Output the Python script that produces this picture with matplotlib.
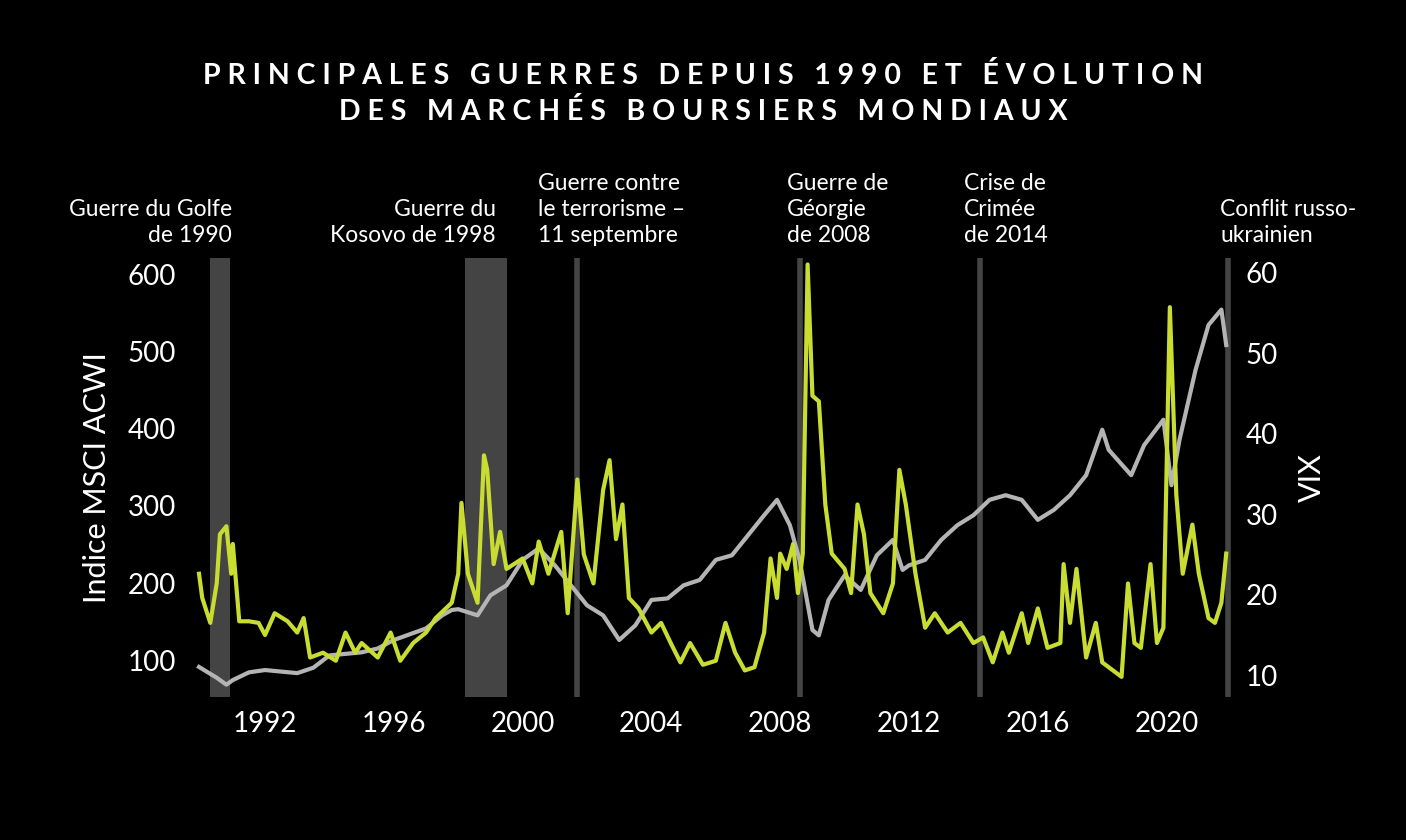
import matplotlib
matplotlib.use("Agg")
import matplotlib.pyplot as plt

plt.rcParams['font.family'] = ['Lato', 'DejaVu Sans']

msci_t = [1989.95,1990.5,1990.8,1991.0,1991.5,1992,1993,1993.5,1994,1995,1995.5,1996,1997,1997.5,1997.8,1998.0,1998.6,1999,1999.5,2000,2000.5,2001,2001.5,2002,2002.5,2003,2003.5,2004,2004.5,2005,2005.5,2006,2006.5,2007,2007.5,2007.9,2008.3,2008.6,2009,2009.2,2009.5,2010,2010.5,2011,2011.5,2011.8,2012,2012.5,2013,2013.5,2014,2014.5,2015,2015.5,2016,2016.5,2017,2017.5,2018,2018.2,2018.9,2019.3,2019.9,2020.15,2020.4,2020.9,2021.3,2021.7,2021.85]
msci_v = [91,77,68,74,84,87,83,90,106,110,115,126,141,158,165,166,158,184,197,230,245,223,197,171,158,126,145,178,180,197,204,230,236,262,288,308,275,230,139,132,178,210,191,236,256,217,223,230,256,275,288,308,314,308,282,295,314,340,399,373,340,379,412,327,386,477,535,555,509]

vix_t = [1989.95,1990.05,1990.3,1990.5,1990.6,1990.8,1990.95,1991.0,1991.2,1991.5,1991.8,1992.0,1992.3,1992.7,1993.0,1993.2,1993.4,1993.8,1994.2,1994.5,1994.8,1995,1995.5,1995.9,1996.2,1996.6,1997.0,1997.3,1997.8,1998.0,1998.1,1998.3,1998.6,1998.8,1998.9,1999.1,1999.3,1999.5,2000.0,2000.3,2000.5,2000.8,2001.2,2001.4,2001.7,2001.9,2002.2,2002.5,2002.7,2002.9,2003.1,2003.3,2003.6,2004.0,2004.3,2004.6,2004.9,2005.2,2005.6,2006.0,2006.3,2006.6,2006.9,2007.2,2007.5,2007.7,2007.9,2008.0,2008.2,2008.4,2008.55,2008.7,2008.85,2009.0,2009.2,2009.4,2009.6,2010.0,2010.2,2010.4,2010.6,2010.8,2011.2,2011.5,2011.7,2011.9,2012.2,2012.5,2012.8,2013.2,2013.6,2014.0,2014.3,2014.6,2014.9,2015.1,2015.5,2015.7,2016.0,2016.3,2016.7,2016.8,2017.0,2017.2,2017.5,2017.8,2018.0,2018.4,2018.6,2018.8,2019.0,2019.2,2019.5,2019.7,2019.9,2020.1,2020.3,2020.5,2020.8,2021.0,2021.3,2021.5,2021.7,2021.85]
vix_v = [22.6,19.6,16.5,21.4,27.5,28.5,22.6,26.3,16.7,16.7,16.5,15,17.7,16.7,15.3,17.1,12.2,12.8,11.8,15.3,12.8,14,12.2,15.3,11.8,14,15.3,17.1,19,22.6,31.4,22.6,19,37.3,35.5,23.8,27.8,23.2,24.5,21.4,26.6,22.6,27.8,17.7,34.3,25,21.4,33,36.7,26.9,31.2,19.6,18.3,15.3,16.5,14,11.6,14,11.3,11.8,16.5,12.8,10.6,11,15.3,24.5,19.6,25.1,23.2,26.3,20.2,25.1,61,44.7,44,31.2,25.1,23.2,20.2,31.2,27.5,20.2,17.7,21.4,35.5,31.2,22.6,15.9,17.7,15.3,16.5,14,14.7,11.6,15.3,12.8,17.7,14,18.3,13.4,14,23.8,16.5,23.2,12.2,16.5,11.6,10.4,9.8,21.4,14,13.4,23.8,14,15.9,55.7,32.4,22.6,28.7,22.6,17.1,16.5,19,25.1]

bands = [(1990.3, 1990.9), (1998.2, 1999.5)]
lines = [2001.7, 2008.6, 2014.2, 2021.9]
xticks = [1992, 1996, 2000, 2004, 2008, 2012, 2016, 2020]

BG = 'black'
fig = plt.figure(figsize=(14.06, 8.4), dpi=100, facecolor=BG)
ax = fig.add_axes([190/1406, 1-697/840, (1232-190)/1406, (697-258)/840], facecolor=BG)
ax2 = ax.twinx()

for a, b in bands:
    ax.axvspan(a, b, color='#444444', lw=0, zorder=0)
for x in lines:
    ax.axvline(x, color='#444444', lw=4, zorder=0)

ax.plot(msci_t, msci_v, color='#b4b4b4', lw=3, zorder=3)
ax2.plot(vix_t, vix_v, color='#c9dc32', lw=3, zorder=2)

ax.set_xlim(1989.67, 2022.03)
ax.set_ylim(52, 622)
ax2.set_ylim(7.3, 61.8)
ax.set_yticks([100, 200, 300, 400, 500, 600])
ax2.set_yticks([10, 20, 30, 40, 50, 60])
ax.set_xticks(xticks)
for a in (ax, ax2):
    for s in a.spines.values():
        s.set_visible(False)
    a.tick_params(colors='white', labelsize=20, length=0, pad=10)
ax.set_ylabel('Indice MSCI ACWI', color='white', fontsize=22, labelpad=12)
ax2.set_ylabel('VIX', color='white', fontsize=22, labelpad=14)

fig.text(0.5, 1-75/840, 'P R I N C I P A L E S   G U E R R E S   D E P U I S   1 9 9 0   E T   É V O L U T I O N',
         color='white', fontsize=20.5, fontweight='bold', ha='center', va='center')
fig.text(0.5, 1-112/840, 'D E S   M A R C H É S   B O U R S I E R S   M O N D I A U X',
         color='white', fontsize=20.5, fontweight='bold', ha='center', va='center')

notes = [(232, 'right', 'Guerre du Golfe\nde 1990'),
         (496, 'right', 'Guerre du\nKosovo de 1998'),
         (538, 'left', 'Guerre contre\nle terrorisme –\n11 septembre'),
         (787, 'left', 'Guerre de\nGéorgie\nde 2008'),
         (964, 'left', 'Crise de\nCrimée\nde 2014'),
         (1220, 'left', 'Conflit russo-\nukrainien')]
for x, ha, t in notes:
    fig.text(x/1406, 1-246/840, t, color='white', fontsize=16.5, ha=ha, va='bottom', linespacing=1.3)

fig.savefig('out.png', dpi=100, facecolor=BG)
